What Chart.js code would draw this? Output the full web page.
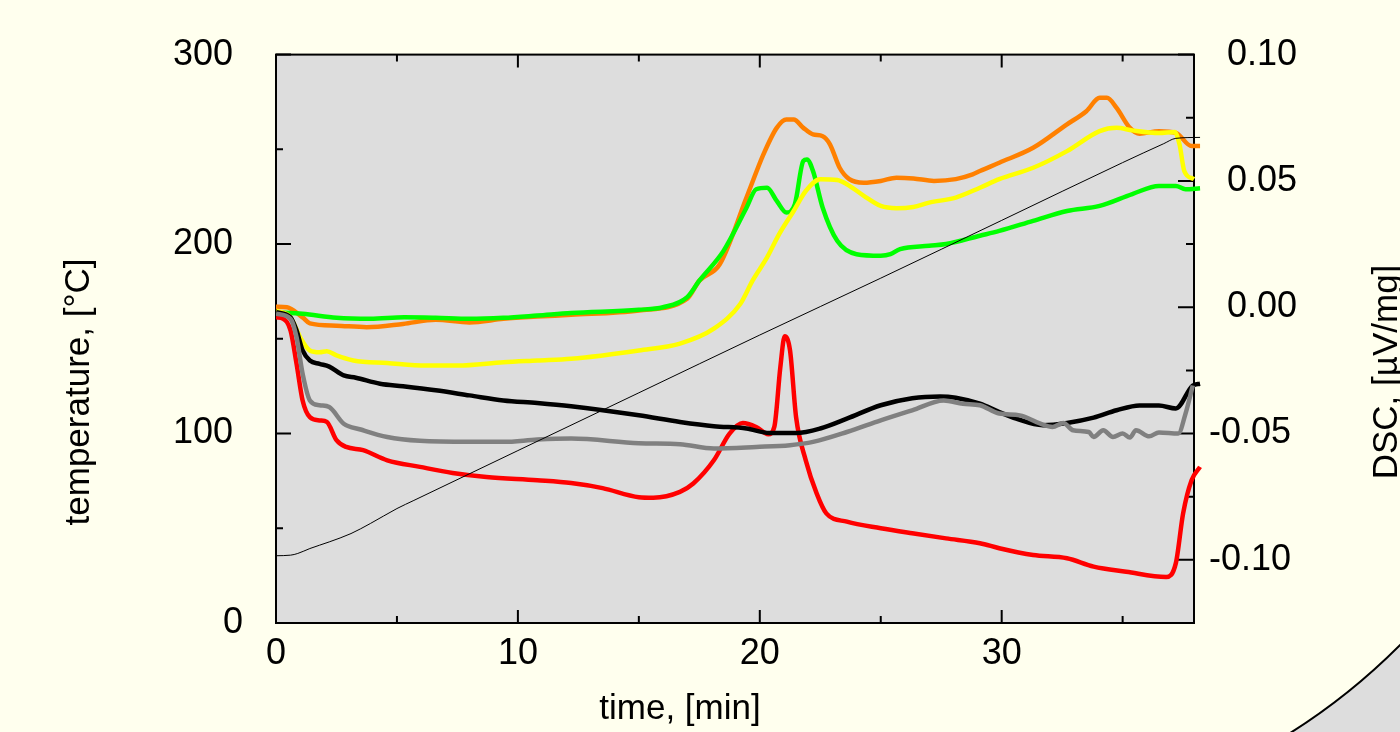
<!DOCTYPE html>
<html>
<head>
<meta charset="UTF-8">
<title>DSC / temperature vs time</title>
<script src="https://cdn.jsdelivr.net/npm/chart.js"></script>
<style>
  html, body { margin: 0; padding: 0; background: #ffffee; }
  canvas { display: block; }
</style>
</head>
<body>
<canvas id="chart" width="1400" height="732"></canvas>
<script>
// temperature programme (left axis, degC)
const tTemp = [0, 0.6, 0.9, 1.4, 2.2, 3.1, 3.9, 5.0, 5.7, 10, 15, 20, 25, 30, 35, 36.7, 37.2, 38.2];
const temp  = [35.5, 35.8, 36.7, 39.3, 42.8, 47.2, 52.5, 60.4, 64.7, 91, 121.5, 152, 182, 212.5, 243, 253, 255.8, 256.3];

// DSC curves (right axis, uV/mg)
const tGreen = [0, 1.1, 2.5, 3.9, 5.3, 6.6, 8.0, 9.4, 10.8, 12.2, 15.0, 16.0, 17.0, 17.5, 18.5, 19.45, 19.85, 20.3, 20.7, 21.1, 21.45, 21.8, 21.95, 22.2, 22.6, 23.2, 24.0, 25.0, 25.4, 25.8, 27.0, 27.7, 29.1, 29.9, 31.3, 32.7, 34.05, 35.4, 36.5, 37.2, 37.6, 38.2];
const dscGreen = [-0.0020, -0.0026, -0.0042, -0.0046, -0.0040, -0.0042, -0.0046, -0.0042, -0.0033, -0.0023, -0.0010, 0.0000, 0.0040, 0.0105, 0.0223, 0.0394, 0.0467, 0.0473, 0.0421, 0.0375, 0.0408, 0.0579, 0.0585, 0.0539, 0.0394, 0.0263, 0.0210, 0.0204, 0.0210, 0.0230, 0.0243, 0.0250, 0.0283, 0.0302, 0.0342, 0.0381, 0.0401, 0.0448, 0.0480, 0.0480, 0.0467, 0.0471];

const tOrange = [0, 0.45, 1.1, 1.4, 2.5, 3.75, 5.25, 6.6, 8.0, 9.4, 10.8, 12.2, 15.0, 17.0, 17.5, 18.35, 19.45, 20.15, 20.7, 21.1, 21.4, 21.8, 22.2, 22.6, 22.9, 23.3, 23.7, 24.3, 25.0, 25.65, 26.35, 27.2, 28.1, 28.8, 29.1, 29.9, 31.3, 32.7, 33.5, 34.05, 34.35, 34.75, 35.3, 35.7, 36.5, 37.2, 37.85, 38.2];
const dscOrange = [0.0002, 0.0000, -0.0040, -0.0064, -0.0073, -0.0079, -0.0066, -0.0050, -0.0060, -0.0046, -0.0037, -0.0030, -0.0013, 0.0034, 0.0105, 0.0171, 0.0434, 0.0605, 0.0710, 0.0743, 0.0743, 0.0710, 0.0684, 0.0677, 0.0645, 0.0552, 0.0507, 0.0493, 0.0500, 0.0513, 0.0510, 0.0500, 0.0507, 0.0526, 0.0539, 0.0572, 0.0631, 0.0724, 0.0776, 0.0829, 0.0829, 0.0789, 0.0710, 0.0687, 0.0697, 0.0690, 0.0638, 0.0638];

const tYellow = [0, 0.6, 1.0, 1.4, 1.8, 2.1, 2.5, 3.2, 4.6, 6.2, 7.5, 9.4, 10.8, 12.2, 15.0, 16.7, 18.1, 19.2, 19.7, 20.3, 20.8, 21.4, 21.9, 22.5, 23.2, 23.6, 24.3, 25.0, 25.65, 26.35, 27.0, 28.1, 29.1, 29.9, 31.3, 32.7, 34.05, 34.75, 35.4, 36.5, 37.15, 37.35, 37.55, 37.95];
const dscYellow = [-0.0013, -0.0040, -0.0119, -0.0171, -0.0178, -0.0174, -0.0191, -0.0211, -0.0221, -0.0231, -0.0231, -0.0218, -0.0211, -0.0204, -0.0171, -0.0144, -0.0085, 0.0014, 0.0105, 0.0197, 0.0289, 0.0381, 0.0460, 0.0507, 0.0504, 0.0487, 0.0441, 0.0401, 0.0392, 0.0397, 0.0414, 0.0434, 0.0473, 0.0507, 0.0552, 0.0618, 0.0697, 0.0710, 0.0700, 0.0690, 0.0694, 0.0645, 0.0539, 0.0507];

const tBlack = [0, 0.6, 0.85, 1.1, 1.4, 1.8, 2.2, 2.8, 3.3, 4.3, 5.25, 6.6, 8.0, 9.4, 10.8, 12.2, 15.0, 16.7, 18.1, 19.45, 20.4, 21.5, 22.5, 23.6, 25.0, 26.3, 27.45, 28.1, 29.1, 29.9, 30.6, 31.7, 32.7, 33.8, 34.75, 35.7, 36.5, 37.2, 37.9, 38.2];
const dscBlack = [-0.0020, -0.0040, -0.0092, -0.0171, -0.0211, -0.0224, -0.0235, -0.0270, -0.0279, -0.0303, -0.0313, -0.0329, -0.0349, -0.0369, -0.0379, -0.0392, -0.0428, -0.0454, -0.0471, -0.0480, -0.0498, -0.0498, -0.0480, -0.0441, -0.0388, -0.0360, -0.0353, -0.0358, -0.0382, -0.0415, -0.0441, -0.0467, -0.0458, -0.0437, -0.0408, -0.0389, -0.0389, -0.0401, -0.0310, -0.0303];

const tGray = [0, 0.6, 0.85, 1.1, 1.4, 1.8, 2.2, 2.8, 3.5, 4.6, 5.95, 8.0, 9.4, 10.8, 12.2, 15.0, 16.7, 18.1, 19.85, 21.25, 22.2, 23.6, 25.0, 26.3, 27.6, 28.4, 29.1, 29.9, 30.75, 31.6, 32.1, 32.55, 32.95, 33.6, 33.8, 34.2, 34.6, 35.0, 35.3, 35.55, 36.1, 36.5, 37.3, 37.6, 37.9];
const dscGray = [-0.0026, -0.0046, -0.0119, -0.0263, -0.0369, -0.0388, -0.0395, -0.0461, -0.0484, -0.0514, -0.0529, -0.0533, -0.0533, -0.0524, -0.0520, -0.0538, -0.0542, -0.0559, -0.0553, -0.0546, -0.0533, -0.0494, -0.0448, -0.0408, -0.0369, -0.0382, -0.0388, -0.0421, -0.0428, -0.0461, -0.0474, -0.0458, -0.0487, -0.0494, -0.0514, -0.0487, -0.0514, -0.0500, -0.0516, -0.0487, -0.0511, -0.0496, -0.0500, -0.0421, -0.0310];

const tRed = [0, 0.3, 0.6, 0.85, 1.1, 1.4, 1.8, 2.1, 2.5, 2.9, 3.6, 4.6, 5.95, 7.3, 8.7, 10.8, 12.2, 13.5, 15.0, 15.6, 16.7, 17.25, 18.1, 18.75, 19.3, 19.85, 20.35, 20.6, 20.85, 21.03, 21.25, 21.5, 21.9, 22.35, 22.75, 23.6, 25.0, 26.3, 27.7, 29.1, 29.9, 31.3, 32.7, 33.8, 35.15, 36.8, 37.2, 37.5, 37.85, 38.2];
const dscRed = [-0.0040, -0.0046, -0.0092, -0.0224, -0.0369, -0.0435, -0.0448, -0.0454, -0.0526, -0.0553, -0.0566, -0.0606, -0.0632, -0.0656, -0.0672, -0.0685, -0.0696, -0.0716, -0.0752, -0.0754, -0.0731, -0.0698, -0.0606, -0.0500, -0.0458, -0.0474, -0.0503, -0.0474, -0.0237, -0.0115, -0.0171, -0.0435, -0.0606, -0.0737, -0.0816, -0.0849, -0.0875, -0.0895, -0.0915, -0.0934, -0.0954, -0.0981, -0.0994, -0.1027, -0.1047, -0.1068, -0.1013, -0.0816, -0.0685, -0.0632];

const xTitle = 'time, [min]';
const yTitle = 'temperature, [°C]';
const y2Title = 'DSC, [µV/mg]';

const FONT = '"Liberation Sans", Arial, sans-serif';
const BG = '#ffffee';
const PLOT_BG = '#dddddd';

function pts(xs, ys) {
  return xs.map((x, i) => ({ x: x, y: ys[i] }));
}

function curve(xs, ys, color, axis, width) {
  return {
    data: pts(xs, ys),
    borderColor: color,
    borderWidth: width,
    yAxisID: axis,
    showLine: true,
    pointRadius: 0,
    cubicInterpolationMode: 'monotone',
    clip: { left: 0, top: 0, right: 8, bottom: 0 }
  };
}

// background, slide decoration, plot frame with inward ticks, axis titles
const frame = {
  id: 'frame',
  beforeDraw(chart) {
    const ctx = chart.ctx, a = chart.chartArea;
    ctx.save();
    ctx.fillStyle = BG;
    ctx.fillRect(0, 0, chart.width, chart.height);
    // grey swoosh in the lower right corner
    ctx.beginPath();
    ctx.rect(1150, 500, 250, 232);
    ctx.clip();
    ctx.fillStyle = PLOT_BG;
    ctx.fillRect(1150, 500, 250, 232);
    ctx.beginPath();
    ctx.arc(954.5, 200.3, 629.5, 0, Math.PI * 2);
    ctx.fillStyle = BG;
    ctx.fill();
    ctx.lineWidth = 2;
    ctx.strokeStyle = '#000';
    ctx.stroke();
    ctx.restore();

    ctx.save();
    ctx.fillStyle = PLOT_BG;
    ctx.fillRect(a.left, a.top, a.right - a.left, a.bottom - a.top);
    ctx.restore();
  },
  beforeDatasetsDraw(chart) {
    const ctx = chart.ctx, a = chart.chartArea;
    const sx = chart.scales.x, sy = chart.scales.y, sy2 = chart.scales.y2;
    ctx.save();
    ctx.strokeStyle = '#000';
    ctx.lineWidth = 2;
    ctx.strokeRect(a.left, a.top, a.right - a.left, a.bottom - a.top);
    ctx.beginPath();
    for (let v = 0; v <= 35; v += 5) {
      const x = sx.getPixelForValue(v);
      const len = v % 10 === 0 ? 13 : 7;
      ctx.moveTo(x, a.bottom); ctx.lineTo(x, a.bottom - len);
      ctx.moveTo(x, a.top); ctx.lineTo(x, a.top + len);
    }
    for (let v = 0; v <= 300; v += 50) {
      const y = sy.getPixelForValue(v);
      const len = v % 100 === 0 ? 15 : 7;
      ctx.moveTo(a.left, y); ctx.lineTo(a.left + len, y);
    }
    for (let i = 0; i <= 9; i++) {
      const v = -0.125 + i * 0.025;
      const y = sy2.getPixelForValue(v);
      const len = i % 2 === 1 ? 16 : 8;
      ctx.moveTo(a.right, y); ctx.lineTo(a.right - len, y);
    }
    ctx.stroke();
    ctx.restore();
  },
  afterDraw(chart) {
    const ctx = chart.ctx;
    ctx.save();
    ctx.fillStyle = '#000';
    ctx.font = '35px ' + FONT;
    ctx.textAlign = 'center';
    ctx.textBaseline = 'alphabetic';
    ctx.fillText(xTitle, 680, 719);

    ctx.save();
    ctx.translate(89, 392);
    ctx.rotate(-Math.PI / 2);
    ctx.fillText(yTitle, 0, 0);
    ctx.restore();

    ctx.save();
    ctx.translate(1397, 372);
    ctx.rotate(-Math.PI / 2);
    ctx.fillText(y2Title, 0, 0);
    ctx.restore();
    ctx.restore();
  }
};

const tickFont = { family: FONT, size: 36 };

new Chart(document.getElementById('chart'), {
  type: 'scatter',
  data: {
    datasets: [
      curve(tTemp, temp, '#000000', 'y', 1),
      curve(tGray, dscGray, '#808080', 'y2', 4.5),
      curve(tBlack, dscBlack, '#000000', 'y2', 4.5),
      curve(tRed, dscRed, '#ff0000', 'y2', 4.5),
      curve(tYellow, dscYellow, '#ffff00', 'y2', 4.5),
      curve(tGreen, dscGreen, '#00ff00', 'y2', 4.5),
      curve(tOrange, dscOrange, '#ff8000', 'y2', 4.5)
    ]
  },
  options: {
    responsive: false,
    devicePixelRatio: 1,
    animation: false,
    layout: { padding: { top: 53, left: 0, right: 0, bottom: 0 } },
    plugins: { legend: { display: false }, tooltip: { enabled: false } },
    scales: {
      x: {
        type: 'linear',
        position: 'bottom',
        min: 0,
        max: 37.95,
        grid: { display: false, drawTicks: false },
        border: { display: false },
        ticks: {
          stepSize: 5,
          autoSkip: false,
          maxRotation: 0,
          padding: 9,
          color: '#000',
          font: tickFont,
          callback: v => (v % 10 === 0 ? String(v) : '')
        },
        afterFit: s => { s.height = 109; }
      },
      y: {
        position: 'left',
        min: 0,
        max: 300,
        grid: { display: false, drawTicks: false },
        border: { display: false },
        ticks: {
          stepSize: 50,
          autoSkip: false,
          padding: 33,
          color: '#000',
          font: tickFont,
          callback: v => (v % 100 !== 0 ? '' : (v === 0 ? '0' : v + ' '))
        },
        afterFit: s => { s.width = 276; }
      },
      y2: {
        position: 'right',
        min: -0.125,
        max: 0.1,
        grid: { display: false, drawTicks: false },
        border: { display: false },
        ticks: {
          stepSize: 0.025,
          autoSkip: false,
          padding: 15,
          color: '#000',
          font: tickFont,
          callback: v => {
            if (Math.abs(v * 20 - Math.round(v * 20)) > 1e-6) return '';
            return (v < -1e-9 ? '' : '\u2002') + v.toFixed(2);
          }
        },
        afterFit: s => { s.width = 206; }
      }
    }
  },
  plugins: [frame]
});
</script>
</body>
</html>
